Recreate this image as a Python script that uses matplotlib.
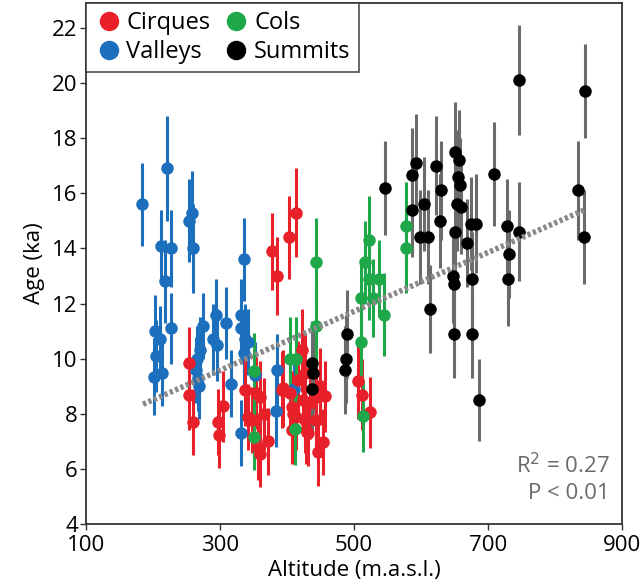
import matplotlib
matplotlib.use("Agg")
import matplotlib.pyplot as plt
from matplotlib.lines import Line2D
import numpy as np

plt.rcParams['font.family'] = ['Open Sans', 'DejaVu Sans']

# ---- data ----
valleys_x = [184, 221, 258, 254, 212, 227, 259, 218, 226, 203, 210, 205, 202, 214,
             335, 294, 309, 275, 289, 296, 270, 266, 264, 268, 267, 332, 331, 337,
             342, 336, 316, 385, 383, 332, 410, 352]
valleys_y = [15.6, 16.9, 15.3, 15.0, 14.1, 14.0, 14.0, 12.8, 11.1, 11.0, 10.7, 10.1, 9.35, 9.5,
             13.6, 11.6, 11.3, 11.2, 10.7, 10.5, 10.3, 10.0, 9.6, 9.0, 9.3, 11.6, 11.1, 10.7,
             10.6, 10.2, 9.1, 9.6, 8.1, 7.3, 8.9, 9.4]
valleys_e = [1.5, 1.9, 1.5, 1.5, 1.3, 1.4, 1.6, 1.5, 1.3, 1.3, 1.2, 1.3, 1.4, 1.2,
             1.5, 1.3, 1.3, 1.2, 1.3, 1.3, 1.2, 1.2, 1.2, 1.2, 1.2, 1.3, 1.3, 1.3,
             1.2, 1.2, 1.2, 1.3, 1.3, 1.2, 1.2, 1.2]

cirques_x = [414, 403, 378, 385, 254, 253, 260, 297, 298, 305, 506, 512, 524, 337, 354,
             347, 365, 372, 357, 360, 392, 404, 417, 424, 409, 427, 407, 449, 457, 444,
             454, 447, 434, 432, 342, 360, 394, 407, 422, 427, 414, 429, 444]
cirques_y = [15.3, 14.4, 13.9, 13.0, 9.85, 8.7, 7.7, 7.7, 7.25, 8.27, 9.2, 8.7, 8.05, 8.85, 8.75,
             7.77, 8.0, 7.0, 6.8, 6.56, 8.87, 8.75, 9.24, 8.5, 8.0, 7.77, 7.4, 9.0, 8.63, 7.77,
             6.98, 6.6, 8.4, 7.3, 7.9, 8.6, 8.93, 8.26, 10.3, 9.48, 7.9, 7.4, 8.6]
cirques_e = [1.6, 1.5, 1.4, 1.4, 1.3, 1.3, 1.2, 1.2, 1.2, 1.3, 1.4, 1.3, 1.3, 1.3, 1.3,
             1.2, 1.3, 1.2, 1.2, 1.2, 1.4, 1.3, 1.4, 1.3, 1.3, 1.2, 1.2, 1.4, 1.3, 1.2,
             1.2, 1.2, 1.3, 1.2, 1.2, 1.3, 1.4, 1.3, 1.5, 1.4, 1.2, 1.2, 1.3]

cols_x = [443, 444, 350, 404, 414, 350, 412, 577, 577, 522, 516, 523, 538, 511, 529, 545, 510, 514]
cols_y = [13.5, 11.2, 9.55, 10.0, 10.0, 7.15, 7.45, 14.8, 14.0, 14.3, 13.5, 12.9, 12.9, 12.2,
          12.2, 11.6, 10.6, 7.93]
cols_e = [1.6, 1.5, 1.4, 1.5, 1.5, 1.2, 1.3, 1.6, 1.6, 1.6, 1.5, 1.5, 1.4, 1.4, 1.4, 1.5, 1.3, 1.3]

summits_x = [489, 488, 487, 437, 439, 438, 546, 587, 593, 622, 587, 604, 599, 610, 630, 628,
             651, 657, 655, 658, 654, 660, 651, 675, 669, 648, 649, 676, 614, 649, 676, 686,
             746, 845, 709, 835, 844, 682, 728, 746, 731, 730]
summits_y = [10.9, 10.0, 9.6, 9.85, 9.5, 8.9, 16.2, 16.67, 17.08, 17.0, 15.4, 15.6, 14.4, 14.4,
             16.1, 15.0, 17.5, 17.2, 16.6, 16.3, 15.6, 15.5, 14.6, 14.9, 14.2, 13.0, 12.7, 12.9,
             11.8, 10.9, 10.9, 8.5, 20.1, 19.7, 16.7, 16.1, 14.4, 14.9, 14.8, 14.6, 13.8, 12.9]
summits_e = [1.6, 1.6, 1.6, 1.5, 1.5, 1.5, 1.7, 1.7, 1.8, 1.8, 1.7, 1.7, 1.7, 1.7,
             1.8, 1.7, 1.8, 1.8, 1.7, 1.7, 1.7, 1.7, 1.7, 1.7, 1.6, 1.7, 1.7, 1.7,
             1.6, 1.6, 1.6, 1.5, 2.0, 1.7, 1.9, 1.8, 1.7, 1.8, 1.7, 1.8, 1.6, 1.7]

trend_x = [185, 845]
trend_y = [8.35, 15.4]

x_ticks = [100, 300, 500, 700, 900]
y_ticks = [4, 6, 8, 10, 12, 14, 16, 18, 20, 22]

# ---- figure ----
fig = plt.figure(figsize=(6.43, 5.87), dpi=100)
ax = fig.add_axes([0.134, 0.107, 0.833, 0.888])

series = [
    ("Valleys", valleys_x, valleys_y, valleys_e, "#1c6fbd", "#1c6fbd"),
    ("Cirques", cirques_x, cirques_y, cirques_e, "#e8202a", "#e8202a"),
    ("Cols", cols_x, cols_y, cols_e, "#1fa84a", "#1fa84a"),
    ("Summits", summits_x, summits_y, summits_e, "#000000", "#6b6b6b"),
]
for name, xs, ys, es, mc, ec in series:
    ax.errorbar(xs, ys, yerr=es, fmt='o', color=mc, ecolor=ec, elinewidth=2.2,
                markersize=9, capsize=0, markeredgewidth=0, zorder=3)

ax.plot(trend_x, trend_y, color="#8a8a8a", linewidth=4, linestyle=(0, (0.6, 0.45)),
        zorder=5, solid_capstyle='butt', dash_capstyle='butt')

ax.set_xlim(100, 900)
ax.set_ylim(4, 22.9)
ax.set_xticks(x_ticks)
ax.set_yticks(y_ticks)
ax.tick_params(labelsize=16, direction='out', length=4, width=1, color='#333333', pad=2)
ax.tick_params(axis='x', pad=4)
for s in ax.spines.values():
    s.set_linewidth(1.3)
    s.set_color('#333333')

ax.set_xlabel("Altitude (m.a.s.l.)", fontsize=16, labelpad=3)
ax.set_ylabel("Age (ka)", fontsize=16, labelpad=5)

ax.text(0.978, 0.113, r"R$^2$ = 0.27", transform=ax.transAxes, ha='right', va='center',
        fontsize=16, color='#6b6b6b')
ax.text(0.978, 0.058, "P < 0.01", transform=ax.transAxes, ha='right', va='center',
        fontsize=16, color='#6b6b6b')

handles = [
    Line2D([], [], marker='o', linestyle='none', color="#e8202a", markersize=13, label="Cirques"),
    Line2D([], [], marker='o', linestyle='none', color="#1c6fbd", markersize=13, label="Valleys"),
    Line2D([], [], marker='o', linestyle='none', color="#1fa84a", markersize=13, label="Cols"),
    Line2D([], [], marker='o', linestyle='none', color="#000000", markersize=13, label="Summits"),
]
leg = ax.legend(handles=handles, ncol=2, loc='upper left', borderaxespad=0, fontsize=17,
                frameon=True, fancybox=False, edgecolor='#333333', handletextpad=0.15,
                columnspacing=0.5, handlelength=1.2, labelspacing=0.2, borderpad=0.35)
leg.get_frame().set_linewidth(1.3)

fig.savefig("out.png", dpi=100)
